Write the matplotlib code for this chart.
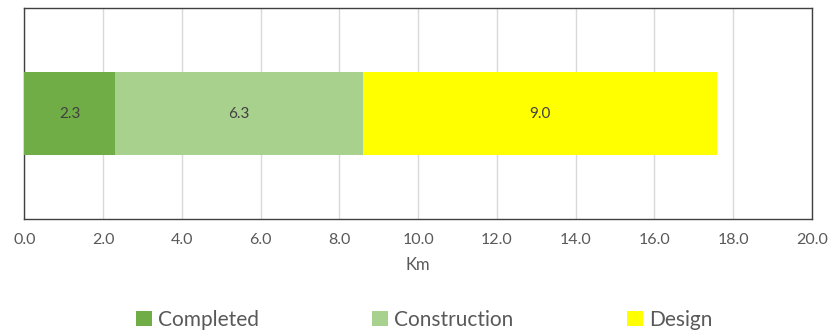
import matplotlib.pyplot as plt
from matplotlib.patches import Patch

plt.rcParams["font.family"] = ["Lato", "DejaVu Sans"]

categories = ["Completed", "Construction", "Design"]
values = [2.3, 6.3, 9.0]
colors = ["#70AD47", "#A9D18E", "#FFFF00"]
xticks = [0, 2, 4, 6, 8, 10, 12, 14, 16, 18, 20]

fig = plt.figure(figsize=(8.3, 3.34), dpi=100)
ax = fig.add_axes([0.0295, 0.343, 0.9485, 0.633])

left = 0.0
for name, val, col in zip(categories, values, colors):
    ax.barh(0, val, left=left, height=0.39, color=col, label=name, zorder=3)
    ax.text(left + val / 2, 0, f"{val:.1f}", ha="center", va="center",
            fontsize=11, color="#404040", zorder=4)
    left += val

ax.set_xlim(0, 20)
ax.set_ylim(-0.5, 0.5)
ax.set_xticks(xticks)
ax.set_xticklabels([f"{t:.1f}" for t in xticks], fontsize=11.5, color="#595959")
ax.set_yticks([])
ax.tick_params(axis="x", length=0, pad=10)
ax.grid(axis="x", color="#D9D9D9", linewidth=1, zorder=0)
for s in ax.spines.values():
    s.set_color("#404040")
    s.set_linewidth(1.0)
ax.set_xlabel("Km", fontsize=12, color="#595959", labelpad=7)

handles = [Patch(facecolor=c, edgecolor="none") for c in colors]
fig.legend(handles, categories, loc="center", bbox_to_anchor=(0.511, 0.042), ncol=3,
           frameon=False, fontsize=15, handlelength=0.75, handleheight=0.75,
           handletextpad=0.3, columnspacing=5.45, labelcolor="#595959")

fig.savefig("out.png", dpi=100)
